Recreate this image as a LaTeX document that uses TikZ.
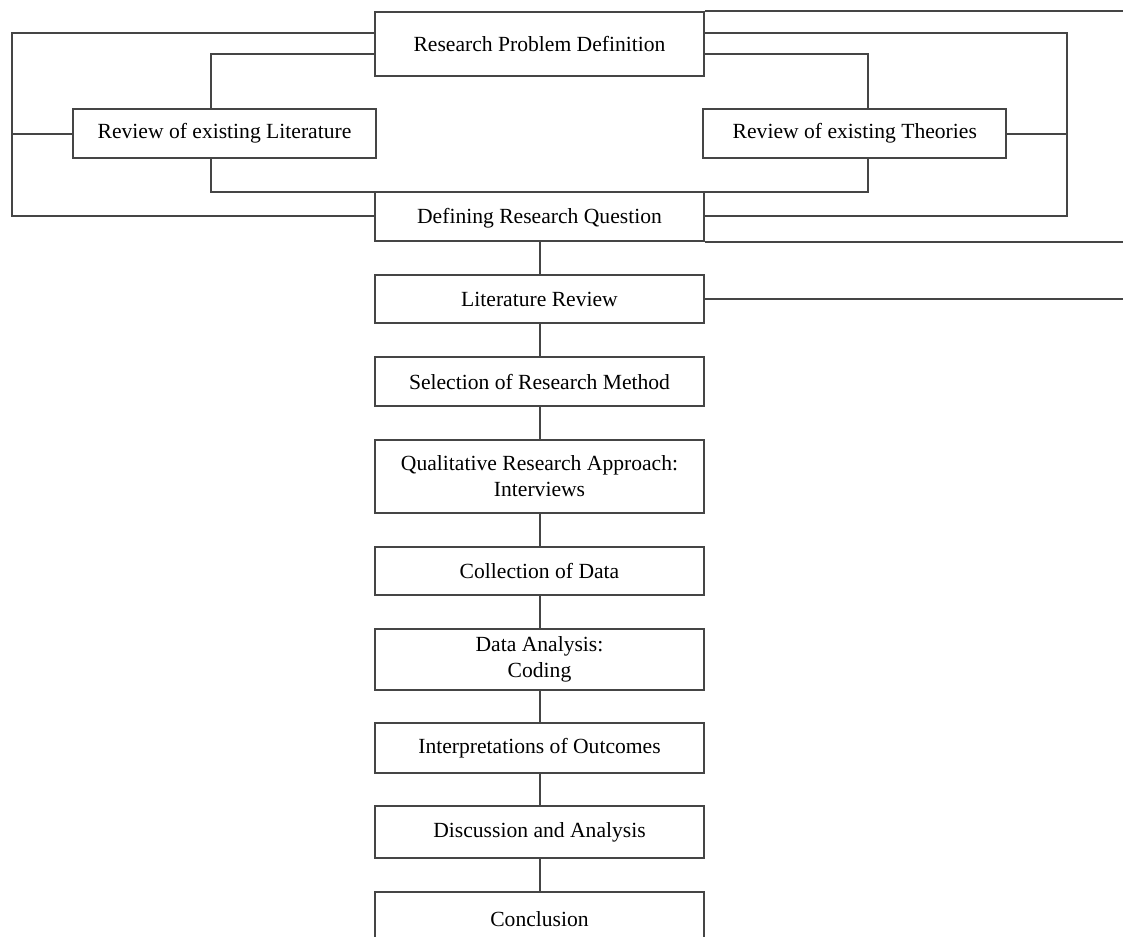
\documentclass[tikz,border=0pt]{standalone}
\usepackage{fontspec}
\setmainfont{Liberation Serif}
\definecolor{linec}{HTML}{454545}
\begin{document}
\begin{tikzpicture}[x=0.75pt,y=-0.75pt,
  conn/.style={draw=linec,line width=1.4pt},
  basebx/.style={draw=linec,line width=1.4pt,fill=white,inner sep=0pt,align=center,
     font=\fontsize{16.2}{19.5}\selectfont},
  mainbx/.style={basebx,minimum width=246.75pt},
  sidebx/.style={basebx,minimum width=227.25pt,minimum height=37pt}]
\useasboundingbox (0,0) rectangle (1123,936);
\clip (0,0) rectangle (1123,936);
% coordinates of the loop rails
\coordinate (Lout) at (12,0);
\coordinate (Lin) at (211,0);
\coordinate (Rin) at (868,0);
\coordinate (Rout) at (1067,0);
\coordinate (Redge) at (1123,0);

% top section nodes
\node[mainbx,minimum height=47.55pt] (rpd) at (539.5,44) {Research Problem Definition};
\node[sidebx] (lit) at (224.5,133.7) {Review of existing Literature};
\node[sidebx] (theo) at (854.8,133.7) {Review of existing Theories};
\node[mainbx,minimum height=36.3pt,text depth=1pt,yshift=-1.5pt] (drq) at (539.5,214.5) {Defining Research Question};

% connectors, top section
\coordinate (rpdLa) at (375,33.3);
\coordinate (rpdLb) at (375,54.3);
\coordinate (rpdRa) at (704,33.3);
\coordinate (rpdRb) at (704,54.3);
\coordinate (drqL) at (375,216);
\coordinate (drqR) at (704,216);
\coordinate (litB) at (211,158.3);
\coordinate (litT) at (211,109);
\coordinate (theoB) at (868,158.3);
\coordinate (theoT) at (868,109);
\coordinate (mid) at (0,192.3);

\draw[conn] (rpd.north east) -- (rpd.north east -| Redge);
\draw[conn] (rpdLa) -| (Lout |- drqL) -- (drqL);
\draw[conn] (lit.west) -- (lit.west -| Lout);
\draw[conn] (rpdLb) -| (litT);
\draw[conn] (rpdRa) -| (Rout |- drqR) -- (drqR);
\draw[conn] (theo.east) -- (theo.east -| Rout);
\draw[conn] (rpdRb) -| (theoT);
\draw[conn] (litB) -- (litB |- mid) -- (theoB |- mid) -- (theoB);
\draw[conn] (drq.south east) -- (drq.south east -| Redge);

% main column
\node[mainbx,minimum height=36.2pt] (litrev) at (539.5,299) {Literature Review};
\node[mainbx,minimum height=36.5pt] (sel) at (539.5,381.7) {Selection of Research Method};
\node[mainbx,minimum height=54.5pt] (qual) at (539.5,476.3) {Qualitative Research Approach:\\Interviews};
\node[mainbx,minimum height=36pt] (coll) at (539.5,571.3) {Collection of Data};
\node[mainbx,minimum height=45.5pt] (data) at (539.5,659.7) {Data Analysis:\\Coding};
\node[mainbx,minimum height=37pt] (interp) at (539.5,748) {Interpretations of Outcomes};
\node[mainbx,minimum height=39.2pt] (disc) at (539.5,832.2) {Discussion and Analysis};
\node[mainbx,minimum height=40.5pt] (concl) at (539.5,918.7) {Conclusion};

\draw[conn] (litrev.east) -- (litrev.east -| Redge);
\draw[conn] ([xshift=0.4pt]drq.south) -- ([xshift=0.4pt]litrev.north);
\draw[conn] ([xshift=0.4pt]litrev.south) -- ([xshift=0.4pt]sel.north);
\draw[conn] ([xshift=0.4pt]sel.south) -- ([xshift=0.4pt]qual.north);
\draw[conn] ([xshift=0.4pt]qual.south) -- ([xshift=0.4pt]coll.north);
\draw[conn] ([xshift=0.4pt]coll.south) -- ([xshift=0.4pt]data.north);
\draw[conn] ([xshift=0.4pt]data.south) -- ([xshift=0.4pt]interp.north);
\draw[conn] ([xshift=0.4pt]interp.south) -- ([xshift=0.4pt]disc.north);
\draw[conn] ([xshift=0.4pt]disc.south) -- ([xshift=0.4pt]concl.north);
\end{tikzpicture}
\end{document}
